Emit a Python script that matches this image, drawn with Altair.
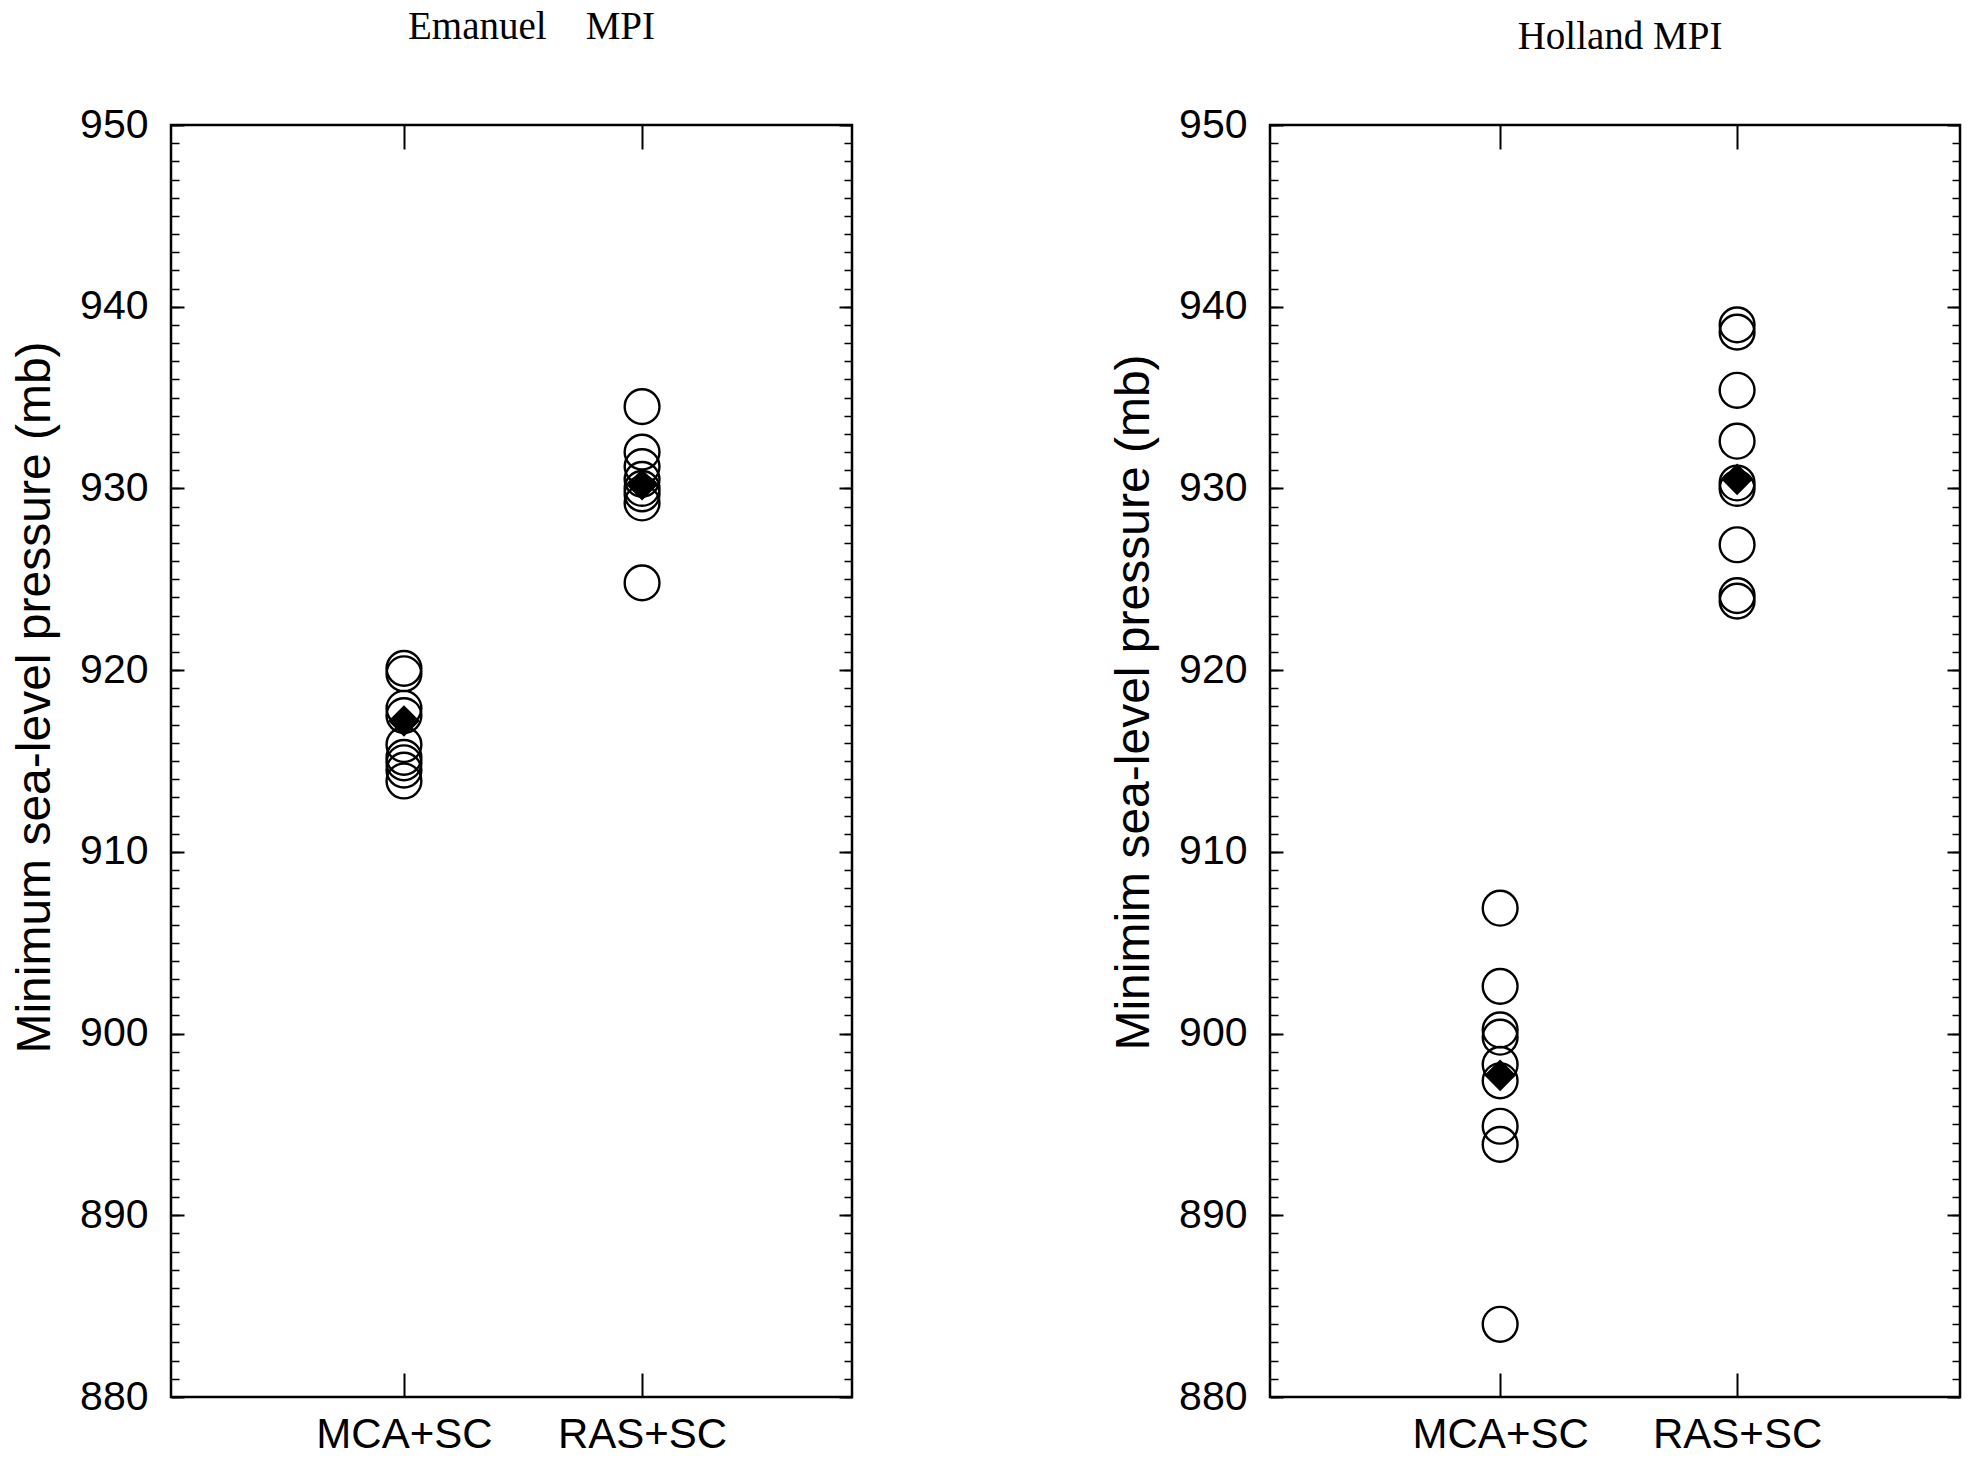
import altair as alt
import pandas as pd

categories = ["MCA+SC", "RAS+SC"]

# Emanuel MPI panel (ensemble members, open circles) and ensemble means (filled diamonds)
emanuel_mca = [920.1, 919.8, 917.9, 917.5, 915.9, 915.2, 914.9, 914.5, 913.9]
emanuel_ras = [934.5, 932.0, 931.2, 930.5, 930.0, 929.7, 929.2, 924.8]
emanuel_mean = [917.2, 930.2]

# Holland MPI panel
holland_mca = [906.9, 902.6, 900.2, 899.8, 898.3, 897.4, 894.9, 893.9, 884.0]
holland_ras = [939.0, 938.6, 935.4, 932.6, 930.3, 930.0, 926.9, 924.1, 923.8]
holland_mean = [897.7, 930.5]

major_ticks = [880, 890, 900, 910, 920, 930, 940, 950]
minor_ticks = list(range(880, 951))

SANS = "Liberation Sans"
SERIF = "Liberation Serif"


def panel(mca, ras, means, title, ytitle, width, height, pad, align, title_dx, title_y, title_offset):
    pts = pd.DataFrame({
        "scheme": [categories[0]] * len(mca) + [categories[1]] * len(ras),
        "pmin": mca + ras,
    })
    mean_df = pd.DataFrame({"scheme": categories, "pmin": means})

    xs = alt.Scale(type="point", domain=categories, padding=pad, align=align)
    ys = alt.Scale(domain=[880, 950], nice=False, zero=False)

    circles = alt.Chart(pts).mark_point(
        shape="circle", filled=False, size=1210, stroke="black", strokeWidth=2.4, opacity=1
    ).encode(
        x=alt.X("scheme:N", scale=xs, sort=categories, axis=alt.Axis(
            orient="bottom", title=None, offset=-24, tickSize=24, tickWidth=2, tickColor="black",
            domain=False, labelFont=SANS, labelFontSize=42, labelColor="black",
            labelPadding=17, labelAngle=0, grid=False)),
        y=alt.Y("pmin:Q", scale=ys, axis=alt.Axis(
            orient="left", title=ytitle, values=major_ticks, offset=-13, tickSize=13,
            tickWidth=2, tickColor="black", domain=False, grid=False,
            labelFont=SANS, labelFontSize=41, labelColor="black", labelPadding=23,
            titleFont=SANS, titleFontSize=48, titleFontWeight="normal", titleColor="black",
            titlePadding=20, titleY=title_y)),
    )

    diamonds = alt.Chart(mean_df).mark_point(
        shape="diamond", filled=True, size=1000, color="black", opacity=1
    ).encode(
        x=alt.X("scheme:N", scale=xs, sort=categories, axis=alt.Axis(
            orient="top", title=None, offset=-24, tickSize=24, tickWidth=2, tickColor="black",
            domain=False, labels=False, grid=False)),
        y=alt.Y("pmin:Q", scale=ys, axis=alt.Axis(
            orient="right", title=None, values=major_ticks, offset=-13, tickSize=13,
            tickWidth=2, tickColor="black", domain=False, labels=False, grid=False)),
    )

    minor_left = alt.Chart(pts).mark_point(opacity=0).encode(
        x=alt.X("scheme:N", scale=xs, sort=categories, axis=None),
        y=alt.Y("pmin:Q", scale=ys, axis=alt.Axis(
            orient="left", title=None, values=minor_ticks, offset=-8, tickSize=8,
            tickWidth=1.5, tickColor="black", domain=False, labels=False, grid=False)),
    )
    minor_right = alt.Chart(pts).mark_point(opacity=0).encode(
        x=alt.X("scheme:N", scale=xs, sort=categories, axis=None),
        y=alt.Y("pmin:Q", scale=ys, axis=alt.Axis(
            orient="right", title=None, values=minor_ticks, offset=-8, tickSize=8,
            tickWidth=1.5, tickColor="black", domain=False, labels=False, grid=False)),
    )

    return alt.layer(circles, minor_left, minor_right, diamonds).resolve_axis(
        x="independent", y="independent"
    ).properties(
        width=width, height=height,
        title=alt.TitleParams(title, font=SERIF, fontSize=39, fontWeight="normal",
                              color="black", anchor="middle", offset=title_offset, dx=title_dx),
    )


left = panel(emanuel_mca, emanuel_ras, emanuel_mean, "Emanuel\u2003MPI",
             "Minimum sea-level pressure (mb)", 681, 1272, 0.93, 0.526, 20, 572, 57)
right = panel(holland_mca, holland_ras, holland_mean, "Holland MPI",
              "Minimim sea-level pressure (mb)", 690, 1272, 0.956, 0.508, 5, 577, 47)

chart = alt.hconcat(left, right, spacing=254).properties(
    padding={"left": 10, "top": 6, "right": 5, "bottom": 5},
    background="white",
).configure_view(stroke="black", strokeWidth=2.5)

chart.save("out.html", embed_options={"renderer": "svg", "actions": False})
